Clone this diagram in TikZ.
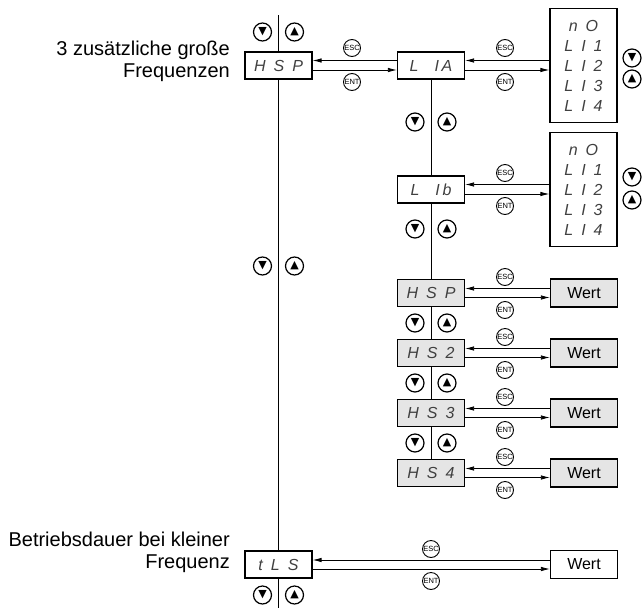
\documentclass[tikz,border=0pt]{standalone}
\usepackage{fontspec}
\setmainfont{Liberation Sans}
\newfontfamily\trifont{DejaVu Sans}
\usetikzlibrary{arrows.meta}

\begin{document}
\begin{tikzpicture}[x=1pt, y=-1pt,
  disp/.style={draw, line width=1.2pt, minimum width=67pt, minimum height=27pt, inner sep=0pt, text=black!75, font=\itshape\fontsize{16}{18}\selectfont},
  lst/.style={draw, line width=1.2pt, minimum width=67pt, minimum height=114pt, inner sep=0pt, align=center, text=black!75, font=\itshape\fontsize{16}{20}\selectfont},
  wert/.style={draw, line width=1.2pt, minimum width=67pt, minimum height=28pt, inner sep=0pt, font=\fontsize{16}{19}\selectfont},
  key/.style={draw, circle, line width=0.9pt, minimum size=17pt, inner sep=0pt, font=\fontsize{7.5}{7.5}\selectfont},
  btn/.style={draw, circle, line width=1.2pt, minimum size=18pt, inner sep=0pt, font=\trifont\fontsize{11}{11}\selectfont},
  arr/.style={-{Latex[length=9pt,width=4.5pt]}, line width=0.8pt},
  vline/.style={line width=0.9pt},
  lbl/.style={anchor=east, align=right, inner sep=0pt, font=\fontsize{20}{22}\selectfont}
]
  \useasboundingbox (0,0) rectangle (642,608);

  \node[lbl] (lblhs) at (230,61.5) {3 zusätzliche große\\Frequenzen};
  \node[lbl] (lbltls) at (230,552.5) {Betriebsdauer bei kleiner\\Frequenz};

  \node[disp] (hsp) at (278.5,65.5) {H\enspace S\enspace P};
  \node[disp] (tls) at (278.5,564.5) {t\enspace L\enspace S};
  \coordinate (mtop) at (278.5,15);
  \coordinate (mbot) at (278.5,608);
  \draw[vline] (mtop) -- (hsp.north);
  \draw[vline] (hsp.south) -- (tls.north);
  \draw[vline] (tls.south) -- (mbot);
  \foreach \y [count=\i] in {32,266,595} {
    \node[btn] (mdn\i) at (262.5,\y) {▼};
    \node[btn] (mup\i) at (294.5,\y) {▲};
  }

  \node[disp] (l1a) at (431,65.5) {L\enspace\enspace I\,A};
  \node[disp] (l1b) at (431,189.5) {L\enspace\enspace I\,b};
  \node[lst] (lista) at (583.5,65.5) {n\enspace O\\L\enspace I\enspace 1\\L\enspace I\enspace 2\\L\enspace I\enspace 3\\L\enspace I\enspace 4};
  \node[lst] (listb) at (583.5,189.5) {n\enspace O\\L\enspace I\enspace 1\\L\enspace I\enspace 2\\L\enspace I\enspace 3\\L\enspace I\enspace 4};
  \node[btn] (ldn1) at (632,58) {▼};
  \node[btn] (lup1) at (632,79) {▲};
  \node[btn] (ldn2) at (632,177) {▼};
  \node[btn] (lup2) at (632,200) {▲};

  \node[key] (esc0) at (352,48) {ESC};
  \node[key] (ent0) at (352,82) {ENT};
  \draw[arr] ([yshift=5pt]l1a.west) -- ([yshift=5pt]hsp.east);
  \draw[arr] ([yshift=-4.5pt]hsp.east) -- ([yshift=-4.5pt]l1a.west);

  \node[key] (esca) at (505,48) {ESC};
  \node[key] (enta) at (505,82) {ENT};
  \draw[arr] ([yshift=5pt]lista.west) -- ([yshift=5pt]l1a.east);
  \draw[arr] ([yshift=-4.5pt]l1a.east) -- ([yshift=-4.5pt]lista.west);

  \node[key] (escb) at (505,173) {ESC};
  \node[key] (entb) at (505,206) {ENT};
  \draw[arr] ([yshift=5pt]listb.west) -- ([yshift=5pt]l1b.east);
  \draw[arr] ([yshift=-4.5pt]l1b.east) -- ([yshift=-4.5pt]listb.west);

  \foreach \n/\t/\y in {1/P/293, 2/2/353, 3/3/413, 4/4/473} {
    \node[disp, fill=gray!20] (hs\n) at (431,\y) {H\enspace S\enspace \t};
    \node[wert, fill=gray!20] (wert\n) at (584,\y) {Wert};
    \node[key] (esc\n) at (505,\y-16) {ESC};
    \node[key] (ent\n) at (505,\y+17) {ENT};
    \draw[arr] ([yshift=4.5pt]wert\n.west) -- ([yshift=4.5pt]hs\n.east);
    \draw[arr] ([yshift=-4.5pt]hs\n.east) -- ([yshift=-4.5pt]wert\n.west);
  }
  \draw[vline] (l1a.south) -- (l1b.north);
  \draw[vline] (l1b.south) -- (hs1.north);
  \draw[vline] (hs1.south) -- (hs2.north);
  \draw[vline] (hs2.south) -- (hs3.north);
  \draw[vline] (hs3.south) -- (hs4.north);
  \foreach \y [count=\i] in {122,229,323,383,443} {
    \node[btn] (cdn\i) at (415,\y) {▼};
    \node[btn] (cup\i) at (447,\y) {▲};
  }

  \node[wert] (wertt) at (584,564.5) {Wert};
  \node[key] (esct) at (431,549) {ESC};
  \node[key] (entt) at (431,581) {ENT};
  \draw[arr] ([yshift=4.5pt]wertt.west) -- ([yshift=4.5pt]tls.east);
  \draw[arr] ([yshift=-4.5pt]tls.east) -- ([yshift=-4.5pt]wertt.west);
\end{tikzpicture}
\end{document}
